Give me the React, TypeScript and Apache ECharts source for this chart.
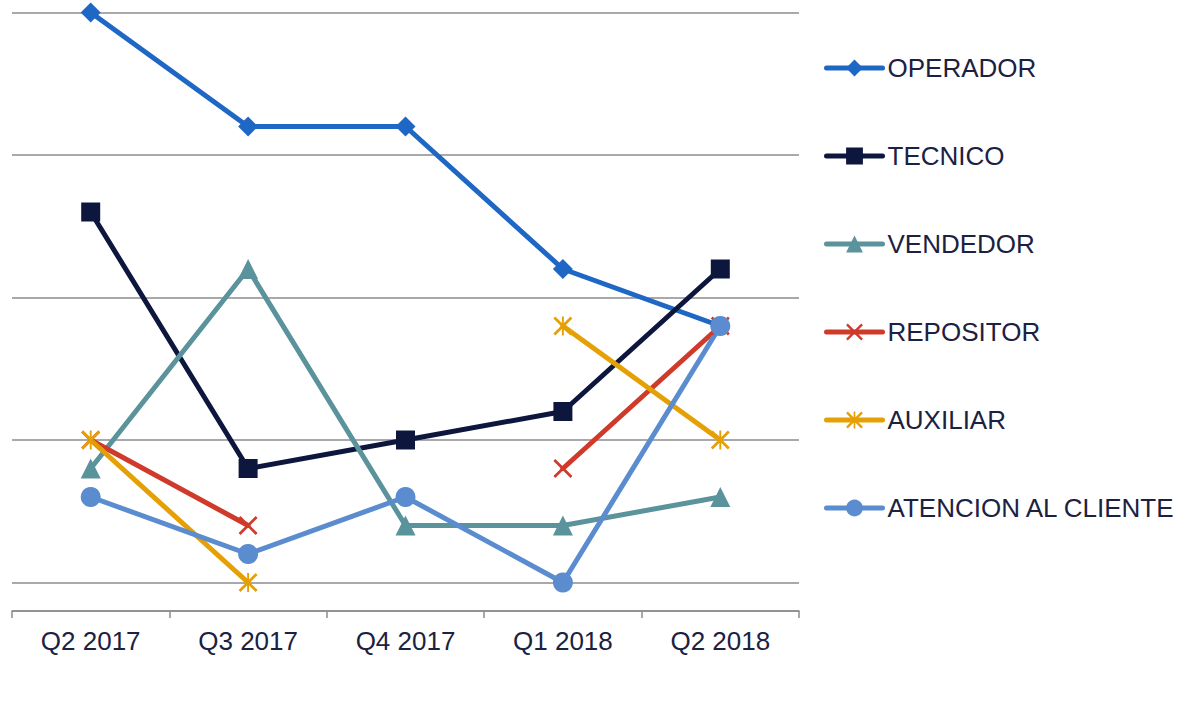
import React, { useEffect, useRef } from "react";
import * as echarts from "echarts";

const categories = ["Q2 2017", "Q3 2017", "Q4 2017", "Q1 2018", "Q2 2018"];
const operador = [0, 4, 4, 9, 11];
const tecnico = [7, 16, 15, 14, 9];
const vendedor = [16, 9, 18, 18, 17];
const repositor = [15, 18, null, 16, 11];
const auxiliar = [15, 20, null, 11, 15];
const atencion = [17, 19, 17, 20, 11];

const X_PATH = "path://M0,1 L1,0 L10,9 L9,10 Z M9,0 L10,1 L1,10 L0,9 Z";
const STAR_PATH =
  "path://M0,1 L1,0 L10,9 L9,10 Z M9,0 L10,1 L1,10 L0,9 Z M4.5,0 L5.5,0 L5.5,10 L4.5,10 Z";

const TEXT = "#1b2142";
const FONT = "Liberation Sans, Arial, sans-serif";

export default function App() {
  const ref = useRef<HTMLDivElement>(null);
  useEffect(() => {
    if (!ref.current) return;
    const chart = echarts.init(ref.current, null, { renderer: "svg" });
    const mk = (name: string, data: (number | null)[], color: string, symbol: string, size: number) => ({
      name,
      type: "line",
      data,
      symbol,
      symbolSize: size,
      connectNulls: false,
      lineStyle: { color, width: 5, cap: "round", join: "round" },
      itemStyle: { color, borderWidth: 0 },
      emphasis: { disabled: true },
    });
    chart.setOption({
      animation: false,
      grid: { left: 12, right: 388, top: 12.5, bottom: 111, containLabel: false },
      legend: {
        orient: "vertical",
        left: 824,
        top: 54,
        padding: 0,
        itemWidth: 56,
        itemHeight: 21,
        itemGap: 60,
        lineStyle: { width: 5, cap: "round" },
        textStyle: { fontSize: 26, color: TEXT, fontFamily: FONT, lineHeight: 28 },
        data: ["OPERADOR", "TECNICO", "VENDEDOR", "REPOSITOR", "AUXILIAR", "ATENCION AL CLIENTE"],
      },
      xAxis: {
        type: "category",
        data: categories,
        boundaryGap: true,
        position: "bottom",
        axisLine: { show: true, onZero: false, lineStyle: { color: "#8c8c90", width: 1.5 } },
        axisTick: { show: true, length: 7, lineStyle: { color: "#8c8c90", width: 1.5 } },
        axisLabel: { fontSize: 26, color: TEXT, fontFamily: FONT, margin: 17 },
        splitLine: { show: false },
      },
      yAxis: {
        type: "value",
        inverse: true,
        min: 0,
        max: 21,
        interval: 5,
        axisLine: { show: false },
        axisTick: { show: false },
        axisLabel: { show: false },
        splitLine: { show: true, lineStyle: { color: "#8c8c90", width: 1.5 } },
      },
      series: [
        mk("OPERADOR", operador, "#1e67c4", "diamond", 20),
        mk("TECNICO", tecnico, "#0d163d", "rect", 19),
        mk("VENDEDOR", vendedor, "#5a939c", "triangle", 20),
        mk("REPOSITOR", repositor, "#cf3a2b", X_PATH, 19),
        mk("AUXILIAR", auxiliar, "#e5a005", STAR_PATH, 19),
        mk("ATENCION AL CLIENTE", atencion, "#5a8ccf", "circle", 20),
      ],
    });
    return () => chart.dispose();
  }, []);
  return <div ref={ref} style={{ width: 1187, height: 722, position: "absolute", left: 0, top: 0 }} />;
}
